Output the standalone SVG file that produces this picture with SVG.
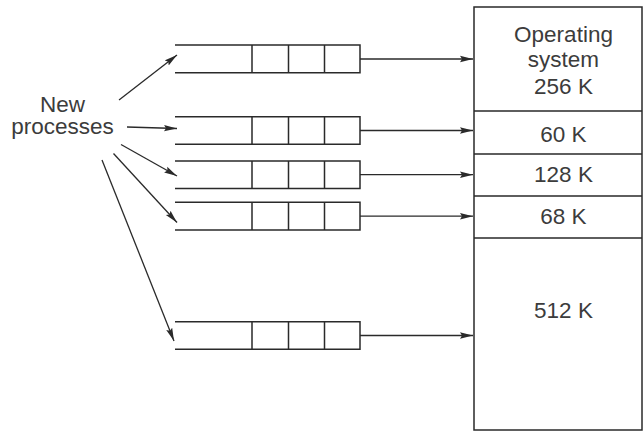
<svg xmlns="http://www.w3.org/2000/svg" width="644" height="432" viewBox="0 0 644 432">
<defs>
<marker id="ah" markerUnits="userSpaceOnUse" markerWidth="14" markerHeight="8" refX="13" refY="4" orient="auto">
<path d="M0,0.8 L13,4 L0,7.2 L2,4 z" fill="#2a2a2a"/>
</marker>
<style>
.q{fill:none;stroke:#2a2a2a;stroke-width:1.5}
.c{fill:none;stroke:#2a2a2a;stroke-width:1.3;marker-end:url(#ah)}
.m{fill:none;stroke:#2a2a2a;stroke-width:1.5}
.t{font-family:"Liberation Sans",Arial,sans-serif;font-size:22.5px;fill:#3c3c3c;text-anchor:middle}
</style>
</defs>
<rect width="644" height="432" fill="#fff"/>
<g id="new-processes">
<text class="t" x="62.5" y="111.5">New</text>
<text class="t" x="62.5" y="134">processes</text>
</g>
<g id="queue1"><path class="q" d="M175,45 H360 V72.7 H175 M252,45 V72.7 M288.5,45 V72.7 M324.5,45 V72.7"/></g>
<g id="queue2"><path class="q" d="M175,116.7 H360 V144.3 H175 M252,116.7 V144.3 M288.5,116.7 V144.3 M324.5,116.7 V144.3"/></g>
<g id="queue3"><path class="q" d="M175,161 H360 V188.4 H175 M252,161 V188.4 M288.5,161 V188.4 M324.5,161 V188.4"/></g>
<g id="queue4"><path class="q" d="M175,202.3 H360 V230 H175 M252,202.3 V230 M288.5,202.3 V230 M324.5,202.3 V230"/></g>
<g id="queue5"><path class="q" d="M175,321.7 H360 V349.3 H175 M252,321.7 V349.3 M288.5,321.7 V349.3 M324.5,321.7 V349.3"/></g>
<g id="memory">
<rect class="m" x="474" y="7" width="168" height="423"/>
<path class="m" d="M474,111 H642 M474,154 H642 M474,196 H642 M474,238 H642"/>
<text class="t" x="563.5" y="42">Operating</text>
<text class="t" x="563.5" y="67">system</text>
<text class="t" x="563.5" y="93.5">256 K</text>
<text class="t" x="563.5" y="141.5">60 K</text>
<text class="t" x="563.5" y="181.5">128 K</text>
<text class="t" x="563.5" y="224">68 K</text>
<text class="t" x="563.5" y="317.5">512 K</text>
</g>
<g id="connectors">
<line class="c" x1="119" y1="100" x2="177" y2="55"/>
<line class="c" x1="127" y1="127" x2="177" y2="128.5"/>
<line class="c" x1="121" y1="144.5" x2="177" y2="176"/>
<line class="c" x1="113.5" y1="153.5" x2="177" y2="222.5"/>
<line class="c" x1="102" y1="160" x2="174" y2="341"/>
<line class="c" x1="360" y1="59" x2="473" y2="59"/>
<line class="c" x1="360" y1="130.5" x2="473" y2="130.5"/>
<line class="c" x1="360" y1="174.7" x2="473" y2="174.7"/>
<line class="c" x1="360" y1="216.2" x2="473" y2="216.2"/>
<line class="c" x1="360" y1="335.5" x2="473" y2="335.5"/>
</g>
</svg>
